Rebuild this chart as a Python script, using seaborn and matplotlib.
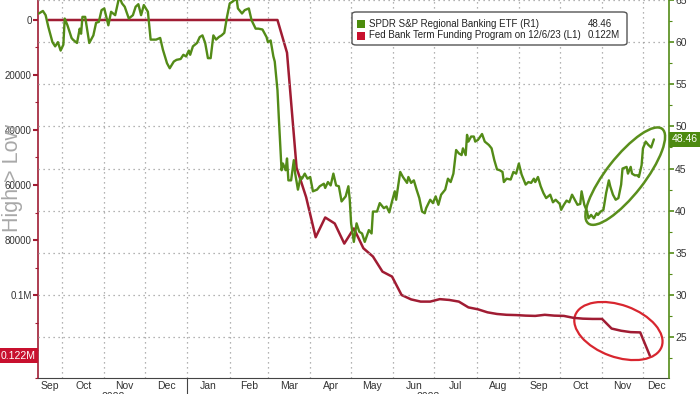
import numpy as np
import pandas as pd
import matplotlib.pyplot as plt
import matplotlib.transforms as mtransforms
from matplotlib.patches import Ellipse, FancyBboxPatch, Rectangle
from matplotlib.ticker import MultipleLocator
import seaborn as sns

# SPDR S&P Regional Banking ETF (right axis)
kre_dates = [
    "2022-09-14", "2022-09-17", "2022-09-19", "2022-09-21", "2022-09-24", "2022-09-26", "2022-09-28", "2022-09-30",
    "2022-10-02", "2022-10-03", "2022-10-05", "2022-10-08", "2022-10-09", "2022-10-12", "2022-10-14", "2022-10-15",
    "2022-10-16", "2022-10-18", "2022-10-21", "2022-10-24", "2022-10-26", "2022-10-28", "2022-10-30", "2022-11-01",
    "2022-11-04", "2022-11-06", "2022-11-09", "2022-11-12", "2022-11-14", "2022-11-16", "2022-11-19", "2022-11-22",
    "2022-11-24", "2022-11-26", "2022-11-28", "2022-11-30", "2022-12-03", "2022-12-05", "2022-12-09", "2022-12-12",
    "2022-12-14", "2022-12-17", "2022-12-19", "2022-12-22", "2022-12-24", "2022-12-27", "2022-12-29", "2022-12-31",
    "2023-01-02", "2023-01-03", "2023-01-05", "2023-01-08", "2023-01-10", "2023-01-12", "2023-01-14", "2023-01-16",
    "2023-01-18", "2023-01-20", "2023-01-22", "2023-01-24", "2023-01-26", "2023-01-28", "2023-01-30", "2023-02-01",
    "2023-02-03", "2023-02-06", "2023-02-07", "2023-02-10", "2023-02-12", "2023-02-15", "2023-02-17", "2023-02-20",
    "2023-02-22", "2023-02-25", "2023-02-28", "2023-03-01", "2023-03-03", "2023-03-05", "2023-03-06", "2023-03-08",
    "2023-03-09", "2023-03-11", "2023-03-12", "2023-03-14", "2023-03-15", "2023-03-16", "2023-03-18", "2023-03-20",
    "2023-03-21", "2023-03-23", "2023-03-25", "2023-03-26", "2023-03-28", "2023-03-30", "2023-04-01", "2023-04-03",
    "2023-04-06", "2023-04-08", "2023-04-11", "2023-04-12", "2023-04-14", "2023-04-16", "2023-04-18", "2023-04-20",
    "2023-04-22", "2023-04-24", "2023-04-27", "2023-04-29", "2023-04-30", "2023-05-01", "2023-05-03", "2023-05-05",
    "2023-05-07", "2023-05-09", "2023-05-11", "2023-05-14", "2023-05-16", "2023-05-17", "2023-05-20", "2023-05-22",
    "2023-05-25", "2023-05-27", "2023-05-29", "2023-05-31", "2023-06-02", "2023-06-03", "2023-06-06", "2023-06-08",
    "2023-06-11", "2023-06-12", "2023-06-14", "2023-06-16", "2023-06-18", "2023-06-20", "2023-06-22", "2023-06-24",
    "2023-06-25", "2023-06-28", "2023-06-30", "2023-07-02", "2023-07-04", "2023-07-06", "2023-07-09", "2023-07-11",
    "2023-07-13", "2023-07-15", "2023-07-17", "2023-07-19", "2023-07-21", "2023-07-22", "2023-07-24", "2023-07-25",
    "2023-07-26", "2023-07-28", "2023-07-30", "2023-07-31", "2023-08-02", "2023-08-05", "2023-08-07", "2023-08-10",
    "2023-08-12", "2023-08-14", "2023-08-16", "2023-08-18", "2023-08-20", "2023-08-21", "2023-08-23", "2023-08-26",
    "2023-08-28", "2023-08-30", "2023-09-01", "2023-09-03", "2023-09-06", "2023-09-08", "2023-09-10", "2023-09-12",
    "2023-09-13", "2023-09-15", "2023-09-17", "2023-09-19", "2023-09-21", "2023-09-24", "2023-09-26", "2023-09-28",
    "2023-10-01", "2023-10-02", "2023-10-04", "2023-10-06", "2023-10-08", "2023-10-10", "2023-10-12", "2023-10-14",
    "2023-10-16", "2023-10-17", "2023-10-19", "2023-10-21", "2023-10-22", "2023-10-24", "2023-10-26", "2023-10-28",
    "2023-10-29", "2023-10-31", "2023-11-02", "2023-11-04", "2023-11-06", "2023-11-07", "2023-11-09", "2023-11-11",
    "2023-11-13", "2023-11-15", "2023-11-16", "2023-11-19", "2023-11-20", "2023-11-22", "2023-11-23", "2023-11-25",
    "2023-11-27", "2023-11-28", "2023-11-30", "2023-12-01", "2023-12-03", "2023-12-05", "2023-12-07", "2023-12-09",
]
kre_vals = [
    63.4, 63.7, 63.2, 61.8, 60.0, 59.5, 60.0, 59.0,
    59.7, 62.8, 62.0, 60.5, 60.3, 59.9, 61.6, 61.0,
    63.0, 63.0, 59.9, 60.8, 62.3, 62.4, 63.8, 64.0,
    62.0, 63.6, 63.2, 65.4, 64.6, 64.2, 62.8, 63.2,
    64.2, 64.5, 63.2, 64.4, 63.6, 60.3, 60.3, 60.5,
    59.1, 57.5, 56.9, 57.7, 57.9, 58.0, 58.5, 58.3,
    59.0, 58.5, 59.5, 59.9, 60.6, 60.8, 59.9, 58.1,
    58.1, 60.8, 60.3, 60.6, 60.8, 61.1, 63.0, 64.6,
    64.8, 65.2, 64.0, 63.4, 63.8, 64.0, 62.6, 61.6,
    61.6, 61.5, 60.6, 60.0, 60.2, 58.3, 57.7, 54.3,
    51.0, 44.8, 45.6, 44.8, 46.2, 43.6, 43.6, 46.0,
    44.4, 42.5, 44.0, 43.8, 44.4, 43.8, 44.0, 42.3,
    42.5, 42.9, 43.2, 42.7, 43.4, 43.0, 44.4, 43.0,
    42.9, 41.1, 41.7, 42.9, 41.3, 38.5, 36.3, 38.5,
    37.5, 37.3, 36.3, 37.7, 37.3, 39.9, 39.9, 40.9,
    40.3, 40.5, 39.8, 41.1, 42.3, 41.3, 44.6, 44.0,
    43.3, 44.0, 43.3, 43.6, 42.5, 41.5, 39.9, 39.7,
    40.3, 41.3, 40.9, 41.7, 40.7, 41.9, 42.5, 43.8,
    43.4, 44.4, 47.2, 46.8, 46.6, 47.4, 46.6, 49.0,
    48.2, 48.8, 48.8, 48.2, 48.4, 49.1, 48.2, 47.8,
    47.4, 46.0, 44.9, 44.8, 44.6, 43.4, 43.8, 43.7,
    44.6, 44.4, 45.6, 44.3, 43.1, 43.4, 43.3, 43.8,
    43.4, 44.0, 42.9, 42.1, 41.5, 41.9, 41.0, 41.3,
    40.8, 40.1, 40.7, 41.2, 41.0, 41.9, 41.3, 40.7,
    40.8, 42.3, 40.7, 39.9, 39.1, 39.5, 39.1, 39.7,
    39.5, 39.9, 40.1, 42.1, 43.6, 42.9, 41.9, 41.3,
    41.5, 43.1, 45.0, 45.2, 44.4, 45.2, 44.4, 44.2,
    44.2, 44.0, 45.4, 47.4, 48.2, 47.8, 47.5, 48.46,
]

# Fed Bank Term Funding Program, weekly (left axis, inverted)
btfp_dates = [
    "2022-09-21", "2023-03-08", "2023-03-15", "2023-03-22", "2023-03-29", "2023-04-05", "2023-04-12",
    "2023-04-19", "2023-04-26", "2023-05-03", "2023-05-10", "2023-05-17", "2023-05-24", "2023-05-31",
    "2023-06-07", "2023-06-14", "2023-06-21", "2023-06-28", "2023-07-05", "2023-07-12", "2023-07-19",
    "2023-07-26", "2023-08-02", "2023-08-09", "2023-08-16", "2023-08-23", "2023-08-30", "2023-09-06",
    "2023-09-13", "2023-09-20", "2023-09-27", "2023-10-04", "2023-10-11", "2023-10-18", "2023-10-25",
    "2023-11-01", "2023-11-08", "2023-11-15", "2023-11-22", "2023-11-29", "2023-12-06",
]
btfp_vals = [
    0, 0, 11900, 53700, 64400, 79000, 71800,
    74000, 81300, 75800, 83000, 86000, 91500, 93300,
    100000, 101600, 102400, 102400, 101500, 101800, 102400,
    104500, 105200, 106300, 106900, 107200, 107300, 107500,
    107600, 107200, 107500, 107600, 108300, 108600, 108700,
    108700, 112200, 113000, 113500, 113600, 122000,
]

left_ticks = [0, 20000, 40000, 60000, 80000, 100000]
left_ticklabels = ["0", "20000", "40000", "60000", "80000", "0.1M"]
right_ticks = [25, 30, 35, 40, 45, 50, 55, 60, 65]
month_labels = ["Sep", "Oct", "Nov", "Dec", "Jan", "Feb", "Mar", "Apr",
                "May", "Jun", "Jul", "Aug", "Sep", "Oct", "Nov", "Dec"]
year_labels = ["2022", "2023"]
kre_name = "SPDR S&P Regional Banking ETF (R1)"
btfp_name = "Fed Bank Term Funding Program on 12/6/23 (L1)"

GREEN = "#538b17"
RED = "#a01c33"
GRID = "#9a9a9a"

sns.set_style("white")
plt.rcParams["font.family"] = ["Liberation Sans", "DejaVu Sans"]

kre = pd.DataFrame({"date": pd.to_datetime(kre_dates), "value": kre_vals})
btfp = pd.DataFrame({"date": pd.to_datetime(btfp_dates), "value": btfp_vals})

fig = plt.figure(figsize=(7, 3.94), dpi=100)
ax = fig.add_axes([0.0543, 0.0406, 0.9014, 0.9594])
ax2 = ax.twinx()

sns.lineplot(data=btfp, x="date", y="value", ax=ax, color=RED, lw=1.8)
sns.lineplot(data=kre, x="date", y="value", ax=ax2, color=GREEN, lw=1.7)

x0 = pd.Timestamp("2022-09-13 10:00")
x1 = pd.Timestamp("2023-12-20 02:00")
ax.set_xlim(x0, x1)
ax.set_ylim(130180, -7270)
ax2.set_ylim(20.15, 65.0)
ax.set_xlabel("")
ax.set_ylabel("")
ax2.set_ylabel("")

# x axis: month boundaries as ticks, month names centred in each month
month_starts = pd.date_range("2022-09-01", "2024-01-01", freq="MS")
ax.set_xticks(month_starts[1:-1])
ax.set_xticklabels([])
lo = [max(a, x0) for a in month_starts[:-1]]
hi = [min(b, x1) for b in month_starts[1:]]
mids = [a + (b - a) / 2 for a, b in zip(lo, hi)]
ax.set_xticks(mids, minor=True)
ax.set_xticklabels(month_labels, minor=True)
ax.tick_params(axis="x", which="major", length=3, width=0.8, color="#444444")
ax.tick_params(axis="x", which="minor", length=0, pad=2, labelsize=7.5, labelcolor="#333333")

# year labels under the months
year_edges = [x0, pd.Timestamp("2023-01-01"), x1]
for a, b, lab in zip(year_edges[:-1], year_edges[1:], year_labels):
    ax.text(a + (b - a) / 2, -0.036, lab, transform=ax.get_xaxis_transform(),
            ha="center", va="top", fontsize=7.5, color="#333333", clip_on=False)
ax.plot([year_edges[1], year_edges[1]], [0, -0.05], transform=ax.get_xaxis_transform(),
        color="#444444", lw=0.8, clip_on=False)

# left axis
ax.set_yticks(left_ticks, left_ticklabels)
ax.yaxis.set_minor_locator(MultipleLocator(10000))
ax.tick_params(axis="y", which="major", length=3.5, width=1.5, color=RED,
               labelsize=7, labelcolor="#333333", pad=1)
ax.tick_params(axis="y", which="minor", length=2, width=0.8, color=RED, left=True)

# right axis
ax2.set_yticks(right_ticks)
ax2.yaxis.set_minor_locator(MultipleLocator(2.5))
ax2.tick_params(axis="y", which="major", length=3.5, width=1.2, color=GREEN,
                labelsize=7.5, labelcolor="#333333", pad=1)
ax2.tick_params(axis="y", which="minor", length=2, width=0.8, color=GREEN, right=True)

# grid
ax.grid(axis="x", which="major", color=GRID, ls=(0, (1, 3)), lw=0.9)
ax.grid(axis="y", visible=False)
ax2.grid(axis="y", which="major", color=GRID, ls=(0, (1, 3)), lw=0.9)

for a in (ax, ax2):
    a.spines["top"].set_visible(False)
ax.spines["right"].set_visible(False)
ax2.spines["left"].set_visible(False)
ax2.spines["bottom"].set_visible(False)
ax.spines["left"].set_color(RED)
ax.spines["left"].set_linewidth(1.2)
ax2.spines["right"].set_color(GREEN)
ax2.spines["right"].set_linewidth(1.2)
ax.spines["bottom"].set_color("#444444")

# last value tags
ax2.text(1.004, kre_vals[-1], f"{kre_vals[-1]:.2f}", transform=ax2.get_yaxis_transform(),
         ha="left", va="center", fontsize=7.5, color="white", clip_on=False,
         bbox=dict(boxstyle="square,pad=0.25", fc="#4d8a10", ec="none"))
ax.text(-0.004, btfp_vals[-1], f"{btfp_vals[-1] / 1e6:.3f}M", transform=ax.get_yaxis_transform(),
        ha="right", va="center", fontsize=7.5, color="white", clip_on=False,
        bbox=dict(boxstyle="square,pad=0.25", fc="#c8102e", ec="none"))

# axis title on the left
fig.text(13 / 700, 1 - 178 / 394, "High > Low", rotation=90, ha="center", va="center",
         fontsize=15.5, color="#a8a8a8")

# highlight ellipses (size in inches, centred on data)
g_center = mtransforms.ScaledTranslation(pd.Timestamp("2023-11-18").toordinal() - 719163, 44.1, ax2.transData)
ax2.add_patch(Ellipse((0, 0), 1.2, 0.38, angle=52, fill=False, ec="#5a8f1c", lw=1.8,
                      transform=fig.dpi_scale_trans + g_center, clip_on=False))
r_center = mtransforms.ScaledTranslation(pd.Timestamp("2023-11-13").toordinal() - 719163, 113100, ax.transData)
ax.add_patch(Ellipse((0, 0), 0.92, 0.52, angle=-20, fill=False, ec="#d8262f", lw=1.6,
                     transform=fig.dpi_scale_trans + r_center, clip_on=False))

# legend box
W, H = 700, 394
fig.add_artist(FancyBboxPatch((352 / W, 1 - 45 / H), 275 / W, 33 / H,
                              boxstyle="round,pad=0,rounding_size=0.006",
                              transform=fig.transFigure, fc="white", ec="#555555", lw=1, zorder=5))
for i, (name, val, col) in enumerate([(kre_name, f"{kre_vals[-1]:.2f}", "#4c8c0c"),
                                      (btfp_name, f"{btfp_vals[-1] / 1e6:.3f}M", "#c8102e")]):
    yc = 24 + i * 11.5
    fig.add_artist(Rectangle((357 / W, 1 - (yc + 4) / H), 8 / W, 8 / H, transform=fig.transFigure,
                             fc=col, ec="none", zorder=6))
    fig.text(369 / W, 1 - yc / H, name, ha="left", va="center", fontsize=7, color="#222222", zorder=6)
    fig.text(588 / W, 1 - yc / H, val, ha="left", va="center", fontsize=7, color="#222222", zorder=6)

fig.savefig("out.png", dpi=100, facecolor="white")
